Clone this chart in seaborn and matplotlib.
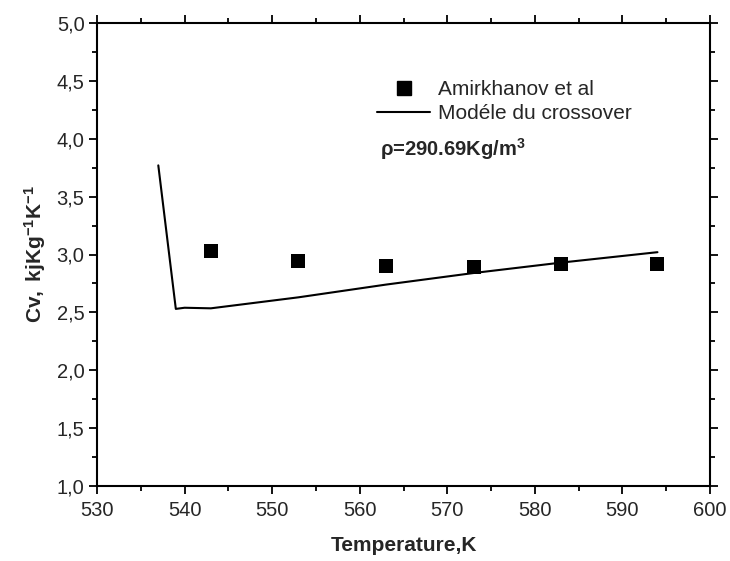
import matplotlib
matplotlib.use("Agg")
import matplotlib.pyplot as plt
import seaborn as sns
from matplotlib.ticker import MultipleLocator, FixedLocator, FixedFormatter
from matplotlib.lines import Line2D

# ---- data ----
exp_T = [543, 553, 563, 573, 583, 594]
exp_cv = [3.03, 2.94, 2.90, 2.895, 2.915, 2.92]

model_T = [537, 539, 540, 543, 553, 563, 573, 583, 594]
model_cv = [3.77, 2.53, 2.54, 2.535, 2.63, 2.74, 2.84, 2.93, 3.02]

x_ticks = [530, 540, 550, 560, 570, 580, 590, 600]
x_ticklabels = ["530", "540", "550", "560", "570", "580", "590", "600"]
y_ticks = [1.0, 1.5, 2.0, 2.5, 3.0, 3.5, 4.0, 4.5, 5.0]
y_ticklabels = ["1,0", "1,5", "2,0", "2,5", "3,0", "3,5", "4,0", "4,5", "5,0"]

exp_label = "Amirkhanov et al"
model_label = "Modéle du crossover"
density_text = r"ρ=290.69Kg/m$^{\mathbf{3}}$"

# ---- style ----
sns.set_style("ticks")
plt.rcParams["font.family"] = ["Liberation Sans", "DejaVu Sans"]
plt.rcParams["mathtext.fontset"] = "custom"
plt.rcParams["mathtext.rm"] = "Liberation Sans"
plt.rcParams["mathtext.bf"] = "Liberation Sans:bold"
plt.rcParams["mathtext.it"] = "Liberation Sans:italic"

fig = plt.figure(figsize=(7.30, 5.61), dpi=100)
ax = fig.add_axes([97 / 730, 1 - 486 / 561, (710 - 97) / 730, (486 - 23) / 561])

sns.scatterplot(x=exp_T, y=exp_cv, marker="s", s=95, color="black",
                edgecolor="black", linewidth=0, ax=ax, zorder=3)
sns.lineplot(x=model_T, y=model_cv, color="black", linewidth=1.5, sort=False,
             estimator=None, ax=ax, zorder=2)

ax.set_xlim(530, 600)
ax.set_ylim(1.0, 5.0)

ax.xaxis.set_major_locator(FixedLocator(x_ticks))
ax.xaxis.set_major_formatter(FixedFormatter(x_ticklabels))
ax.yaxis.set_major_locator(FixedLocator(y_ticks))
ax.yaxis.set_major_formatter(FixedFormatter(y_ticklabels))
ax.xaxis.set_minor_locator(MultipleLocator(5))
ax.yaxis.set_minor_locator(MultipleLocator(0.25))

for side in ["left", "right", "top", "bottom"]:
    ax.spines[side].set_visible(True)
    ax.spines[side].set_linewidth(1.5)
    ax.spines[side].set_color("black")

ax.tick_params(which="both", direction="out", top=True, right=True,
               labeltop=False, labelright=False, color="black", width=1.3)
ax.tick_params(which="major", length=6, labelsize=14.5)
ax.tick_params(axis="x", which="major", pad=5)
ax.tick_params(axis="y", which="major", pad=3)
ax.tick_params(which="minor", length=3.6)

ax.set_xlabel("Temperature,K", fontsize=15, fontweight="bold", labelpad=11)
ax.set_ylabel(r"$\mathbf{Cv,\ kjKg^{-1}K^{-1}}$", fontsize=15, labelpad=6)

h1 = Line2D([], [], marker="s", color="black", linestyle="none", markersize=9.5)
h2 = Line2D([], [], color="black", linewidth=1.5)
ax.legend([h1, h2], [exp_label, model_label], loc="center left",
          bbox_to_anchor=((377 - 97) / 613, (486 - 101.5) / 463),
          frameon=False, fontsize=15, handlelength=2.55, handletextpad=0.4,
          borderpad=0, borderaxespad=0, labelspacing=0.25)

ax.text(562.3, 3.91, density_text, fontsize=14.5, fontweight="bold",
        va="center", ha="left")

fig.savefig("out.png", dpi=100)
